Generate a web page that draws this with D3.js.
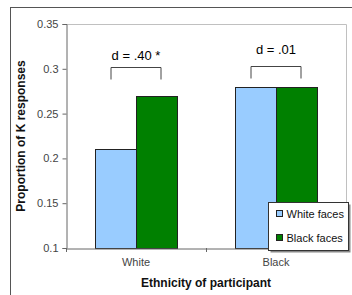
<!DOCTYPE html>
<html>
<head>
<meta charset="utf-8">
<script src="https://cdn.jsdelivr.net/npm/d3@7"></script>
<style>
  body { margin: 0; background: #fff; }
  svg text { font-family: "Liberation Sans", Arial, sans-serif; }
</style>
</head>
<body>
<svg id="chart" width="352" height="295"></svg>
<script>
var categories = ["White", "Black"];
var seriesNames = ["White faces", "Black faces"];
var whiteFaces = [0.21, 0.28];
var blackFaces = [0.27, 0.28];
var effectLabels = ["d = .40 *", "d = .01"];
var yTicks = [0.1, 0.15, 0.2, 0.25, 0.3, 0.35];
var colors = ["#99ccff", "#008000"];

var svg = d3.select("#chart");
var plotLeft = 66, plotRight = 346, plotTop = 24, plotBottom = 248;

// outer chart frame
svg.append("rect").attr("x", 10.5).attr("y", 7.5).attr("width", 360).attr("height", 300)
  .attr("fill", "none").attr("stroke", "#555");

var x = d3.scaleBand().domain(categories).range([plotLeft, plotRight]);
var sub = d3.scaleBand().domain(seriesNames).range([0, 82]);
var y = d3.scaleLinear().domain([0.1, 0.35]).range([plotBottom, plotTop]);

// plot area border (top & right)
svg.append("path").attr("d", "M" + plotLeft + "," + (plotTop + 0.5) + "H" + (plotRight + 0.5) + "V" + plotBottom)
  .attr("fill", "none").attr("stroke", "#c0c0c0");

var rows = categories.map(function(c, i) {
  return { cat: c, vals: [whiteFaces[i], blackFaces[i]] };
});

var g = svg.selectAll("g.cat").data(rows).enter().append("g").attr("class", "cat")
  .attr("transform", function(d) { return "translate(" + (x(d.cat) + x.bandwidth() / 2 - 41) + ",0)"; });

g.selectAll("rect").data(function(d) {
  return d.vals.map(function(v, j) { return { s: seriesNames[j], v: v, j: j }; });
}).enter().append("rect")
  .attr("x", function(d) { return sub(d.s) + 0.5; })
  .attr("y", function(d) { return Math.round(y(d.v)) + 0.5; })
  .attr("width", sub.bandwidth())
  .attr("height", function(d) { return plotBottom - Math.round(y(d.v)); })
  .attr("fill", function(d) { return colors[d.j]; })
  .attr("stroke", "#222").attr("stroke-width", 1);

// y axis
var yAxis = svg.append("g").attr("transform", "translate(" + (plotLeft + 0.5) + ",0)")
  .call(d3.axisLeft(y).tickValues(yTicks).tickSize(4).tickPadding(4)
    .tickFormat(function(d) { return String(+d.toFixed(2)); }));
yAxis.select(".domain").attr("stroke", "#666");
yAxis.selectAll(".tick line").attr("stroke", "#666");
yAxis.selectAll(".tick text").attr("font-size", 11).attr("fill", "#444")
  .attr("font-family", "Liberation Sans, Arial, sans-serif");

// x axis
var xAxis = svg.append("g").attr("transform", "translate(0," + (plotBottom + 0.5) + ")")
  .call(d3.axisBottom(x).tickSize(0).tickPadding(10));
xAxis.select(".domain").attr("stroke", "#666");
xAxis.selectAll(".tick text").attr("font-size", 11).attr("fill", "#444")
  .attr("font-family", "Liberation Sans, Arial, sans-serif");
svg.append("g").selectAll("line").data([plotLeft, (plotLeft + plotRight) / 2, plotRight]).enter().append("line")
  .attr("x1", function(d) { return Math.round(d) + 0.5; })
  .attr("x2", function(d) { return Math.round(d) + 0.5; })
  .attr("y1", plotBottom).attr("y2", plotBottom + 4).attr("stroke", "#666");

// effect-size brackets
rows.forEach(function(d, i) {
  var cx = x(d.cat) + x.bandwidth() / 2;
  var by = Math.round(y(Math.max.apply(null, d.vals))) - (i === 0 ? 29 : 21) + 0.5;
  svg.append("path")
    .attr("d", "M" + (cx - 25) + "," + (by + 12) + "V" + by + "H" + (cx + 25) + "V" + (by + 12))
    .attr("fill", "none").attr("stroke", "#444");
  svg.append("text").attr("x", cx).attr("y", by - (i === 0 ? 8 : 13))
    .attr("text-anchor", "middle").attr("font-size", 13).attr("fill", "#000")
    .text(effectLabels[i]);
});

// axis titles
svg.append("text").attr("x", (plotLeft + plotRight) / 2).attr("y", 287)
  .attr("text-anchor", "middle").attr("font-size", 12).attr("font-weight", "bold").attr("fill", "#111")
  .text("Ethnicity of participant");
svg.append("text").attr("transform", "translate(25," + ((plotTop + plotBottom) / 2) + ") rotate(-90)")
  .attr("text-anchor", "middle").attr("font-size", 12).attr("font-weight", "bold").attr("fill", "#111")
  .text("Proportion of K responses");

// legend
var lg = svg.append("g").attr("transform", "translate(268.5,202.5)");
lg.append("rect").attr("x", 2).attr("y", 2).attr("width", 80).attr("height", 48).attr("fill", "#888");
lg.append("rect").attr("width", 80).attr("height", 48).attr("fill", "#fff").attr("stroke", "#333");
var items = lg.selectAll("g").data(seriesNames).enter().append("g")
  .attr("transform", function(d, i) { return "translate(0," + (12 + i * 24) + ")"; });
items.append("rect").attr("x", 8).attr("y", -4).attr("width", 6).attr("height", 6)
  .attr("fill", function(d, i) { return colors[i]; }).attr("stroke", "#222");
items.append("text").attr("x", 18).attr("y", 3.5).attr("font-size", 11).attr("fill", "#111")
  .text(function(d) { return d; });
</script>
</body>
</html>
